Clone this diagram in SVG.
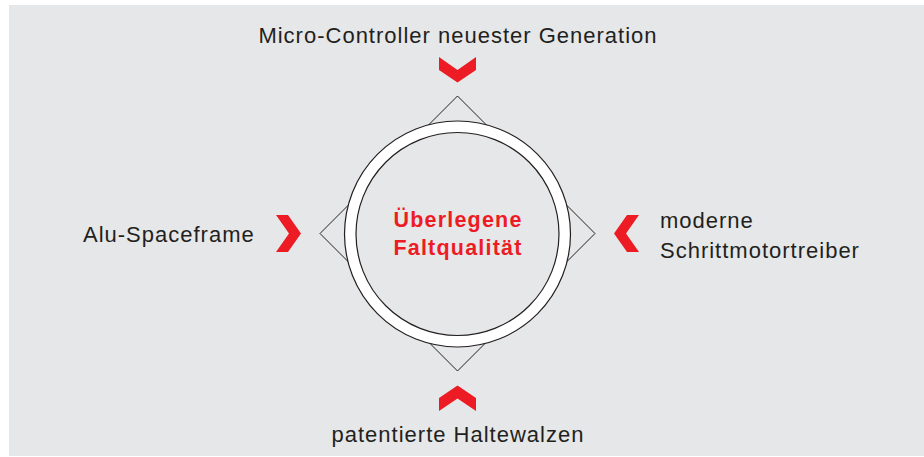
<svg xmlns="http://www.w3.org/2000/svg" width="924" height="457" viewBox="0 0 924 457">
<style>
.lbl{font-family:"Liberation Sans",Arial,sans-serif;font-size:22px;fill:#231f20;letter-spacing:1px}
.ctr{font-family:"Liberation Sans",Arial,sans-serif;font-size:21.5px;font-weight:bold;fill:#ed1c24;letter-spacing:1.2px}
.chev{fill:#ed1c24}
.line{fill:none;stroke:#231f20;stroke-width:1}
</style>
<rect x="9" y="5" width="915" height="451" fill="#e6e7e8"/>
<g id="connectors">
<polygon class="line" points="457.5,96 595,233.5 457.5,371 320,233.5"/>
<polygon class="chev" points="439,57 457.5,70 476,57 476,70 457.5,82.5 439,70"/>
<polygon class="chev" points="439,398 457.5,385.5 476,398 476,411 457.5,398.5 439,411"/>
<polygon class="chev" points="276,215 288,215 301,233.5 288,252 276,252 289,233.5"/>
<polygon class="chev" points="639,215 627,215 614,233.5 627,252 639,252 626,233.5"/>
</g>
<g id="center">
<circle cx="457.5" cy="234" r="113" fill="#ffffff" stroke="#231f20" stroke-width="1.2"/>
<circle cx="457.5" cy="234" r="101.5" fill="#e6e7e8" stroke="#231f20" stroke-width="1.2"/>
<text class="ctr" x="458" y="227" text-anchor="middle">Überlegene</text>
<text class="ctr" x="458" y="255" text-anchor="middle">Faltqualität</text>
</g>
<g id="top"><text class="lbl" x="458" y="43" text-anchor="middle">Micro-Controller neuester Generation</text></g>
<g id="bottom"><text class="lbl" x="458" y="442" text-anchor="middle">patentierte Haltewalzen</text></g>
<g id="left"><text class="lbl" x="83" y="242">Alu-Spaceframe</text></g>
<g id="right"><text class="lbl" x="660" y="228">moderne</text><text class="lbl" x="660" y="258">Schrittmotortreiber</text></g>
</svg>
